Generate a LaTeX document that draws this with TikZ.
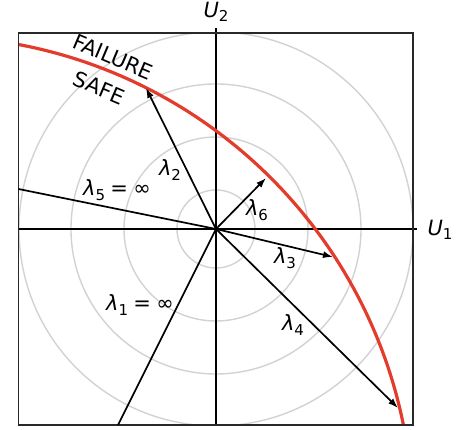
\documentclass[tikz,border=0pt]{standalone}
\usepackage{fontspec}
\setmainfont{DejaVu Sans}
\usetikzlibrary{arrows.meta}
\definecolor{failred}{RGB}{227,60,45}
\definecolor{ringgray}{RGB}{210,210,210}
\definecolor{framegray}{RGB}{40,40,40}
\newcommand{\lowidx}[1]{\raisebox{-0.22em}{\fontsize{15}{15}\selectfont #1}}
\newcommand{\lam}[1]{{\itshape λ}\lowidx{#1}}
\newcommand{\infeq}{\kern0.25em=\kern0.25em∞}

\begin{document}
\begin{tikzpicture}[x=1pt,y=1pt,>={Latex[length=10pt,width=7pt]},
  ray/.style={line width=1.7pt},
  lbl/.style={inner sep=0pt,font=\fontsize{21}{25}\selectfont}]
\useasboundingbox (-216,-201) rectangle (242,229);
\coordinate (O) at (0,0);

% rings, kept inside the frame
\begin{scope}
\clip (-197.5,-196) rectangle (197,196);
\foreach \r in {39,92,145,197}
  \draw[ringgray,line width=1.4pt] (O) circle (\r);
\end{scope}

% axes
\coordinate (u1left) at (-197.5,0);
\coordinate (u1right) at (201,0);
\coordinate (u2low) at (0,-196);
\coordinate (u2up) at (0,201);
\draw[ray] (u1left) -- (u1right);
\draw[ray] (u2low) -- (u2up);
\node[lbl] (U1) at (224,-1) {\textit{U}\lowidx{1}};
\node[lbl] (U2) at (0,217) {\textit{U}\lowidx{2}};

% limit state
\begin{scope}
\clip (-197.5,-196) rectangle (197,196);
\draw[failred,line width=3.2pt] (-288,-292) ++(85:485) arc (85:5:485);
\end{scope}

% frame
\draw[framegray,line width=1.6pt] (-197.5,-196) rectangle (197,196);

% rays
\coordinate (t1) at (-98,-196);
\coordinate (t2) at (-70,141);
\coordinate (t3) at (117,-28);
\coordinate (t4) at (182,-179);
\coordinate (t5) at (-197.5,40);
\coordinate (t6) at (50,51);
\draw[ray] (O) -- (t1);
\draw[ray] (O) -- (t5);
\foreach \t in {t2,t3,t4,t6}
  \draw[ray,->] (O) -- (\t);

% labels
\node[lbl] (l1) at (-76,-76) {\lam{1}\infeq};
\node[lbl] (l2) at (-46,59) {\lam{2}};
\node[lbl] (l3) at (69,-29) {\lam{3}};
\node[lbl] (l4) at (77,-96) {\lam{4}};
\node[lbl] (l5) at (-99,39) {\lam{5}\infeq};
\node[lbl] (l6) at (41,19) {\lam{6}};
\node[lbl,rotate=-23] (fail) at (-103,172) {FAILURE};
\node[lbl,rotate=-23] (safe) at (-117,141) {SAFE};
\end{tikzpicture}
\end{document}
